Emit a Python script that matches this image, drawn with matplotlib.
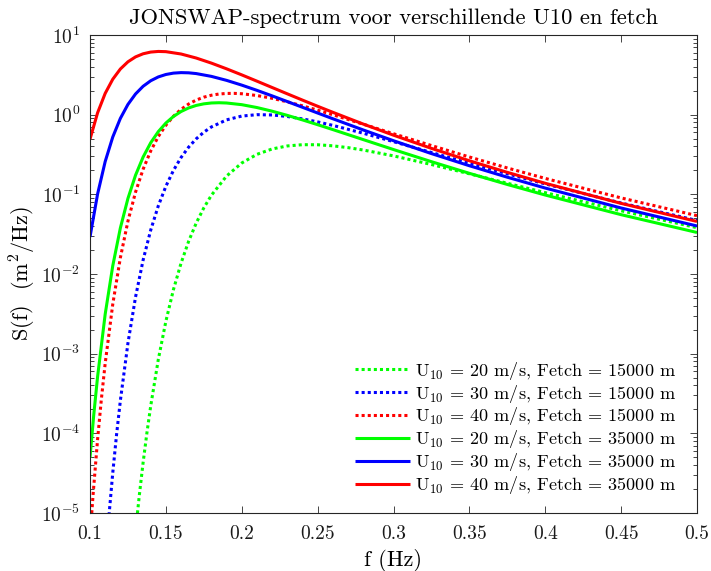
import matplotlib
matplotlib.use('Agg')
import matplotlib.pyplot as plt
from matplotlib.ticker import LogLocator, NullFormatter

plt.rcParams['font.family'] = 'serif'
plt.rcParams['font.serif'] = ['cmr10', 'DejaVu Serif']
plt.rcParams['mathtext.fontset'] = 'cm'
plt.rcParams['axes.formatter.use_mathtext'] = True

# ---- data (f in Hz, S in m^2/Hz) ----
f_u20_f15 = [0.130, 0.1325, 0.135, 0.1375, 0.140, 0.145, 0.150, 0.155, 0.160, 0.165, 0.170, 0.175, 0.180,
             0.190, 0.200, 0.210, 0.220, 0.230, 0.240, 0.250, 0.260, 0.270, 0.280, 0.300, 0.325, 0.350,
             0.375, 0.400, 0.450, 0.500]
S_u20_f15 = [5.85e-6, 1.667e-5, 4.30e-5, 1.013e-4, 2.202e-4, 8.43e-4, 2.551e-3, 6.385e-3, 0.01367, 0.02575,
             0.04359, 0.06761, 0.09741, 0.1697, 0.2473, 0.3175, 0.3711, 0.4048, 0.4199, 0.4191, 0.4064,
             0.3857, 0.3602, 0.3039, 0.2368, 0.1811, 0.1377, 0.1050, 0.06218, 0.03813]

f_u30_f15 = [0.110, 0.1125, 0.115, 0.1175, 0.120, 0.125, 0.130, 0.135, 0.140, 0.145, 0.150, 0.155, 0.160,
             0.165, 0.170, 0.175, 0.180, 0.190, 0.200, 0.210, 0.220, 0.230, 0.240, 0.250, 0.260, 0.280,
             0.300, 0.325, 0.350, 0.375, 0.400, 0.450, 0.500]
S_u30_f15 = [2.29e-6, 9.25e-6, 3.193e-5, 9.62e-5, 2.570e-4, 1.354e-3, 5.127e-3, 0.01497, 0.03554, 0.07157,
             0.1262, 0.1998, 0.2899, 0.3913, 0.4975, 0.6029, 0.7012, 0.8609, 0.9601, 1.000, 0.9916, 0.9492,
             0.8856, 0.8115, 0.7338, 0.5852, 0.4585, 0.3350, 0.2454, 0.1811, 0.1351, 0.07784, 0.04697]

f_u40_f15 = [0.100, 0.102, 0.105, 0.1075, 0.110, 0.115, 0.120, 0.125, 0.130, 0.135, 0.140, 0.145, 0.150,
             0.155, 0.160, 0.165, 0.170, 0.175, 0.180, 0.185, 0.190, 0.195, 0.200, 0.210, 0.220, 0.230,
             0.240, 0.250, 0.260, 0.280, 0.300, 0.325, 0.350, 0.375, 0.400, 0.450, 0.500]
S_u40_f15 = [4.91e-6, 1.67e-5, 8.39e-5, 2.695e-4, 7.537e-4, 4.172e-3, 0.01598, 0.04604, 0.1064, 0.2066,
             0.3499, 0.5310, 0.7378, 0.9552, 1.167, 1.360, 1.526, 1.658, 1.754, 1.816, 1.847, 1.851, 1.831,
             1.739, 1.604, 1.449, 1.291, 1.139, 0.9986, 0.7600, 0.5763, 0.4097, 0.2943, 0.2143, 0.1584,
             0.09015, 0.05401]

f_u20_f35 = [0.100, 0.1025, 0.105, 0.110, 0.115, 0.120, 0.125, 0.130, 0.135, 0.140, 0.145, 0.150, 0.155,
             0.160, 0.165, 0.170, 0.175, 0.180, 0.185, 0.190, 0.200, 0.210, 0.220, 0.230, 0.240, 0.250,
             0.260, 0.280, 0.300, 0.325, 0.350, 0.375, 0.400, 0.450, 0.500]
S_u20_f35 = [4.95e-5, 1.724e-4, 5.143e-4, 3.124e-3, 0.01266, 0.03774, 0.08875, 0.1736, 0.2939, 0.4439,
             0.6122, 0.7852, 0.9496, 1.095, 1.215, 1.306, 1.367, 1.402, 1.412, 1.401, 1.335, 1.229, 1.106,
             0.9800, 0.8595, 0.7487, 0.6498, 0.4868, 0.3650, 0.2570, 0.1835, 0.1330, 0.09797, 0.05554,
             0.03320]

f_u30_f35 = [0.100, 0.105, 0.110, 0.115, 0.120, 0.125, 0.130, 0.135, 0.140, 0.145, 0.150, 0.155, 0.160,
             0.165, 0.170, 0.180, 0.190, 0.200, 0.210, 0.220, 0.230, 0.240, 0.250, 0.260, 0.280, 0.300,
             0.325, 0.350, 0.375, 0.400, 0.450, 0.500]
S_u30_f35 = [0.02917, 0.1009, 0.2578, 0.5243, 0.8972, 1.345, 1.819, 2.272, 2.665, 2.976, 3.194, 3.323,
             3.371, 3.352, 3.279, 3.024, 2.695, 2.349, 2.020, 1.722, 1.461, 1.238, 1.049, 0.8892, 0.6433,
             0.4710, 0.3247, 0.2285, 0.1640, 0.1199, 0.06738, 0.04006]

f_u40_f35 = [0.100, 0.105, 0.110, 0.115, 0.120, 0.125, 0.130, 0.135, 0.140, 0.145, 0.150, 0.160, 0.170,
             0.180, 0.190, 0.200, 0.210, 0.220, 0.230, 0.240, 0.250, 0.260, 0.280, 0.300, 0.325, 0.350,
             0.375, 0.400, 0.450, 0.500]
S_u40_f35 = [0.4920, 1.055, 1.849, 2.785, 3.742, 4.609, 5.311, 5.811, 6.106, 6.218, 6.178, 5.775, 5.139,
             4.437, 3.762, 3.158, 2.634, 2.193, 1.827, 1.524, 1.275, 1.071, 0.7630, 0.5527, 0.3775, 0.2640,
             0.1887, 0.1376, 0.07697, 0.04567]

labels = [r'U$_{10}$ = 20 m/s, Fetch = 15000 m',
          r'U$_{10}$ = 30 m/s, Fetch = 15000 m',
          r'U$_{10}$ = 40 m/s, Fetch = 15000 m',
          r'U$_{10}$ = 20 m/s, Fetch = 35000 m',
          r'U$_{10}$ = 30 m/s, Fetch = 35000 m',
          r'U$_{10}$ = 40 m/s, Fetch = 35000 m']

x_ticks = [0.1, 0.15, 0.2, 0.25, 0.3, 0.35, 0.4, 0.45, 0.5]
x_ticklabels = ['0.1', '0.15', '0.2', '0.25', '0.3', '0.35', '0.4', '0.45', '0.5']

series = [(f_u20_f15, S_u20_f15), (f_u30_f15, S_u30_f15), (f_u40_f15, S_u40_f15),
          (f_u20_f35, S_u20_f35), (f_u30_f35, S_u30_f35), (f_u40_f35, S_u40_f35)]
colors = ['#00ff00', '#0000ff', '#ff0000', '#00ff00', '#0000ff', '#ff0000']
dotted = (0, (1, 1))
styles = [dotted, dotted, dotted, '-', '-', '-']

fig = plt.figure(figsize=(7.11, 5.71), dpi=100)
ax = fig.add_axes([90/711, 1 - 513/571, (697-90)/711, (513-35)/571])

for (f, S), c, ls, lab in zip(series, colors, styles, labels):
    ax.plot(f, S, color=c, linestyle=ls, linewidth=2.2, label=lab,
            dash_capstyle='butt', solid_capstyle='butt')

ax.set_yscale('log')
ax.set_xlim(0.1, 0.5)
ax.set_ylim(1e-5, 1e1)
ax.set_xticks(x_ticks)
ax.set_xticklabels(x_ticklabels)
ax.yaxis.set_major_locator(LogLocator(base=10, numticks=10))
ax.yaxis.set_minor_locator(LogLocator(base=10, subs=range(2, 10), numticks=20))
ax.yaxis.set_minor_formatter(NullFormatter())

axc = '#262626'
for sp in ax.spines.values():
    sp.set_color(axc)
    sp.set_linewidth(0.8)
ax.tick_params(which='both', direction='in', top=True, right=True, colors=axc, labelcolor='#1a1a1a',
               labelsize=14, width=0.6)
ax.tick_params(which='major', length=5)
ax.tick_params(axis='x', which='major', pad=9)
ax.tick_params(axis='y', which='major', pad=7)
ax.tick_params(which='minor', length=3)

ax.set_title('JONSWAP-spectrum voor verschillende U10 en fetch', fontsize=16.3, pad=8)
ax.set_xlabel('f (Hz)', fontsize=16, labelpad=4)
ax.set_ylabel(r'S(f)  (m$^2$/Hz)', fontsize=16, labelpad=2)

ax.legend(loc='lower right', frameon=False, fontsize=13.1, handlelength=3.0, handletextpad=0.25,
          labelspacing=0.05, borderaxespad=0, bbox_to_anchor=(0.977, 0.02))

fig.savefig('out.png', dpi=100)
